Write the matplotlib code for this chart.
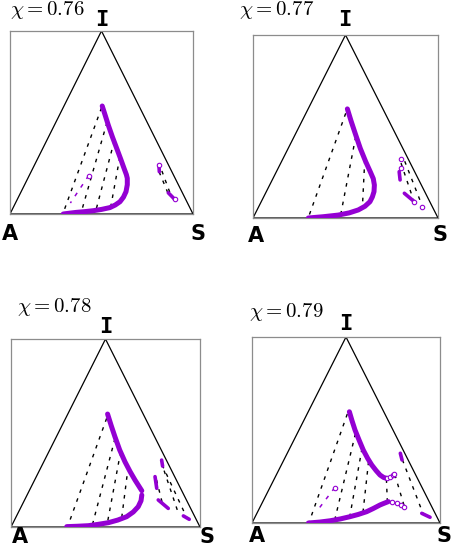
#!/usr/bin/env python
# -*- coding: utf-8 -*-

"""Four ternary phase diagrams (A, I, S) for increasing chi."""

import matplotlib
matplotlib.use("Agg")
import matplotlib.pyplot as plt

plt.rcParams["mathtext.fontset"] = "cm"

PURPLE = "#9400d3"

CHI = [0.76, 0.77, 0.78, 0.79]

# --- chi = 0.76 -------------------------------------------------------------
BIN_076_X = [0.504, 0.52, 0.537, 0.56, 0.583, 0.605, 0.623, 0.636, 0.641, 0.641, 0.634,
             0.62, 0.601, 0.575, 0.546, 0.50, 0.455, 0.41, 0.364, 0.33, 0.291]
BIN_076_Y = [0.590, 0.54, 0.486, 0.42, 0.359, 0.30, 0.250, 0.215, 0.195, 0.16, 0.122,
             0.092, 0.067, 0.049, 0.035, 0.025, 0.018, 0.013, 0.009, 0.005, 0.0]
TIE_076 = [((0.50, 0.58), (0.29, 0.004)), ((0.53, 0.50), (0.39, 0.012)),
           ((0.57, 0.40), (0.47, 0.022)), ((0.60, 0.31), (0.55, 0.036))]
META_076 = [((0.43, 0.21), (0.33, 0.06))]
SIDE_076 = [([0.814, 0.816], [0.268, 0.231]), ([0.865, 0.90], [0.116, 0.08])]
SIDE_TIE_076 = [((0.815, 0.23), (0.865, 0.11)), ((0.83, 0.235), (0.88, 0.10))]

# --- chi = 0.77 -------------------------------------------------------------
BIN_077_X = [0.51, 0.53, 0.555, 0.58, 0.609, 0.635, 0.65, 0.656, 0.654, 0.645, 0.632,
             0.605, 0.569, 0.52, 0.461, 0.38, 0.299]
BIN_077_Y = [0.596, 0.53, 0.454, 0.38, 0.308, 0.25, 0.215, 0.18, 0.144, 0.115, 0.089,
             0.064, 0.044, 0.028, 0.016, 0.007, 0.0]
TIE_077 = [((0.501, 0.572), (0.299, 0.002)), ((0.555, 0.444), (0.474, 0.018)),
           ((0.604, 0.317), (0.591, 0.053))]
SIDE_077 = [([0.79, 0.795], [0.253, 0.208]), ([0.818, 0.872], [0.135, 0.089])]
SIDE_OPEN_077_X = [0.802, 0.802, 0.872, 0.915]
SIDE_OPEN_077_Y = [0.321, 0.272, 0.089, 0.062]
SIDE_TIE_077 = [((0.80, 0.30), (0.87, 0.09)), ((0.82, 0.31), (0.915, 0.065))]

# --- chi = 0.78 -------------------------------------------------------------
UP_078_X = [0.511, 0.53, 0.550, 0.575, 0.603, 0.63, 0.656, 0.675, 0.692]
UP_078_Y = [0.601, 0.54, 0.480, 0.41, 0.347, 0.295, 0.250, 0.22, 0.193]
LOW_078_X = [0.692, 0.688, 0.673, 0.647, 0.612, 0.565, 0.515, 0.46, 0.409, 0.35, 0.295]
LOW_078_Y = [0.170, 0.14, 0.108, 0.08, 0.055, 0.037, 0.023, 0.014, 0.007, 0.004, 0.002]
TIE_078 = [((0.506, 0.578), (0.30, 0.003)), ((0.55, 0.47), (0.43, 0.009)),
           ((0.58, 0.40), (0.51, 0.022)), ((0.62, 0.32), (0.585, 0.043))]
SIDE_078 = [([0.797, 0.802], [0.356, 0.324]), ([0.762, 0.771], [0.268, 0.206]),
            ([0.779, 0.832], [0.144, 0.099]), ([0.912, 0.943], [0.059, 0.041])]
SIDE_TIE_078 = [((0.80, 0.33), (0.93, 0.05)), ((0.77, 0.25), (0.80, 0.13)),
                ((0.81, 0.30), (0.88, 0.09))]

# --- chi = 0.79 -------------------------------------------------------------
UP_079_X = [0.518, 0.532, 0.548, 0.57, 0.592, 0.615, 0.637, 0.66, 0.681, 0.70, 0.716]
UP_079_Y = [0.598, 0.55, 0.500, 0.445, 0.392, 0.348, 0.312, 0.282, 0.258, 0.245, 0.240]
UP_OPEN_079_X = [0.72, 0.735, 0.75, 0.757]
UP_OPEN_079_Y = [0.24, 0.25, 0.258, 0.263]
LOW_079_X = [0.725, 0.70, 0.681, 0.645, 0.610, 0.565, 0.521, 0.47, 0.415, 0.36, 0.30]
LOW_079_Y = [0.115, 0.105, 0.097, 0.078, 0.061, 0.046, 0.034, 0.022, 0.012, 0.005, 0.0]
LOW_OPEN_079_X = [0.746, 0.77, 0.79, 0.809]
LOW_OPEN_079_Y = [0.111, 0.105, 0.097, 0.088]
TIE_079 = [((0.507, 0.586), (0.303, 0.002)), ((0.55, 0.48), (0.44, 0.016)),
           ((0.585, 0.40), (0.52, 0.034)), ((0.62, 0.33), (0.59, 0.055)),
           ((0.715, 0.235), (0.72, 0.113))]
META_079 = [((0.44, 0.19), (0.35, 0.07))]
SIDE_079 = [([0.789, 0.798], [0.375, 0.339]), ([0.903, 0.947], [0.052, 0.031])]
SIDE_TIE_079 = [((0.80, 0.34), (0.91, 0.05)), ((0.76, 0.26), (0.81, 0.09))]

# axes rectangles in figure fractions and label offsets (data coords)
AX_RECTS = [
    (0.0218, 0.6095, 0.3996, 0.334),
    (0.5524, 0.6022, 0.4040, 0.334),
    (0.0240, 0.0383, 0.4127, 0.343),
    (0.5502, 0.0456, 0.4105, 0.3394),
]
LABEL_POS = [
    {"I": (0.50, 1.06), "A": (0.0, -0.11), "S": (1.027, -0.11), "t": (0.0, 1.115)},
    {"I": (0.497, 1.08), "A": (0.015, -0.10), "S": (1.01, -0.095), "t": (-0.076, 1.137)},
    {"I": (0.503, 1.064), "A": (0.048, -0.052), "S": (1.039, -0.052), "t": (0.03, 1.169)},
    {"I": (0.498, 1.07), "A": (0.028, -0.07), "S": (1.02, -0.068), "t": (-0.016, 1.133)},
]

DASH = (0, (2.6, 4.2))


def draw_frame(ax, pos, chi):
    ax.plot([0, 0.5, 1, 0], [0, 1, 0, 0], color="black", lw=0.9, zorder=1)
    ax.set_xlim(0, 1)
    ax.set_ylim(0, 1)
    ax.set_xticks([])
    ax.set_yticks([])
    for sp in ax.spines.values():
        sp.set_color("#8c8c8c")
        sp.set_linewidth(0.9)
    ax.text(*pos["I"], "I", family="DejaVu Sans Mono", fontweight="bold",
            fontsize=16, ha="center", va="center", clip_on=False)
    for key in ("A", "S"):
        ax.text(*pos[key], key, family="DejaVu Sans", fontweight="heavy",
                fontsize=15, ha="center", va="center", clip_on=False)
    ax.text(pos["t"][0], pos["t"][1], r"$\chi = %.2f$" % chi, fontsize=15,
            ha="left", va="center", clip_on=False)


def draw_ties(ax, ties, color="black", lw=1.0):
    for (x0, y0), (x1, y1) in ties:
        ax.plot([x0, x1], [y0, y1], color=color, lw=lw, linestyle=DASH, zorder=2)


def draw_branch(ax, xs, ys, lw=3.6):
    ax.plot(xs, ys, color=PURPLE, lw=lw, solid_capstyle="round",
            solid_joinstyle="round", zorder=3)


def draw_open(ax, xs, ys):
    ax.plot(xs, ys, linestyle="none", marker="o", ms=3.2, mfc="white",
            mec=PURPLE, mew=0.8, zorder=4)


fig = plt.figure(figsize=(4.58, 5.48), dpi=100)
axes = [fig.add_axes(r) for r in AX_RECTS]
for ax, pos, chi in zip(axes, LABEL_POS, CHI):
    draw_frame(ax, pos, chi)

# chi = 0.76
ax = axes[0]
draw_ties(ax, TIE_076)
draw_ties(ax, SIDE_TIE_076)
draw_ties(ax, META_076, color=PURPLE, lw=1.1)
draw_open(ax, [META_076[0][0][0]], [META_076[0][0][1]])
draw_branch(ax, BIN_076_X, BIN_076_Y)
for xs, ys in SIDE_076:
    draw_branch(ax, xs, ys, lw=2.6)
draw_open(ax, [0.814, 0.90], [0.268, 0.08])

# chi = 0.77
ax = axes[1]
draw_ties(ax, TIE_077)
draw_ties(ax, SIDE_TIE_077)
draw_branch(ax, BIN_077_X, BIN_077_Y)
for xs, ys in SIDE_077:
    draw_branch(ax, xs, ys, lw=2.6)
draw_open(ax, SIDE_OPEN_077_X, SIDE_OPEN_077_Y)

# chi = 0.78
ax = axes[2]
draw_ties(ax, TIE_078)
draw_ties(ax, SIDE_TIE_078)
draw_branch(ax, UP_078_X, UP_078_Y)
draw_branch(ax, LOW_078_X, LOW_078_Y)
for xs, ys in SIDE_078:
    draw_branch(ax, xs, ys, lw=2.6)

# chi = 0.79
ax = axes[3]
draw_ties(ax, TIE_079)
draw_ties(ax, SIDE_TIE_079)
draw_ties(ax, META_079, color=PURPLE, lw=1.1)
draw_open(ax, [META_079[0][0][0]], [META_079[0][0][1]])
draw_branch(ax, UP_079_X, UP_079_Y)
draw_branch(ax, LOW_079_X, LOW_079_Y)
draw_open(ax, UP_OPEN_079_X, UP_OPEN_079_Y)
draw_open(ax, LOW_OPEN_079_X, LOW_OPEN_079_Y)
for xs, ys in SIDE_079:
    draw_branch(ax, xs, ys, lw=2.6)

fig.savefig("out.png", dpi=100)
